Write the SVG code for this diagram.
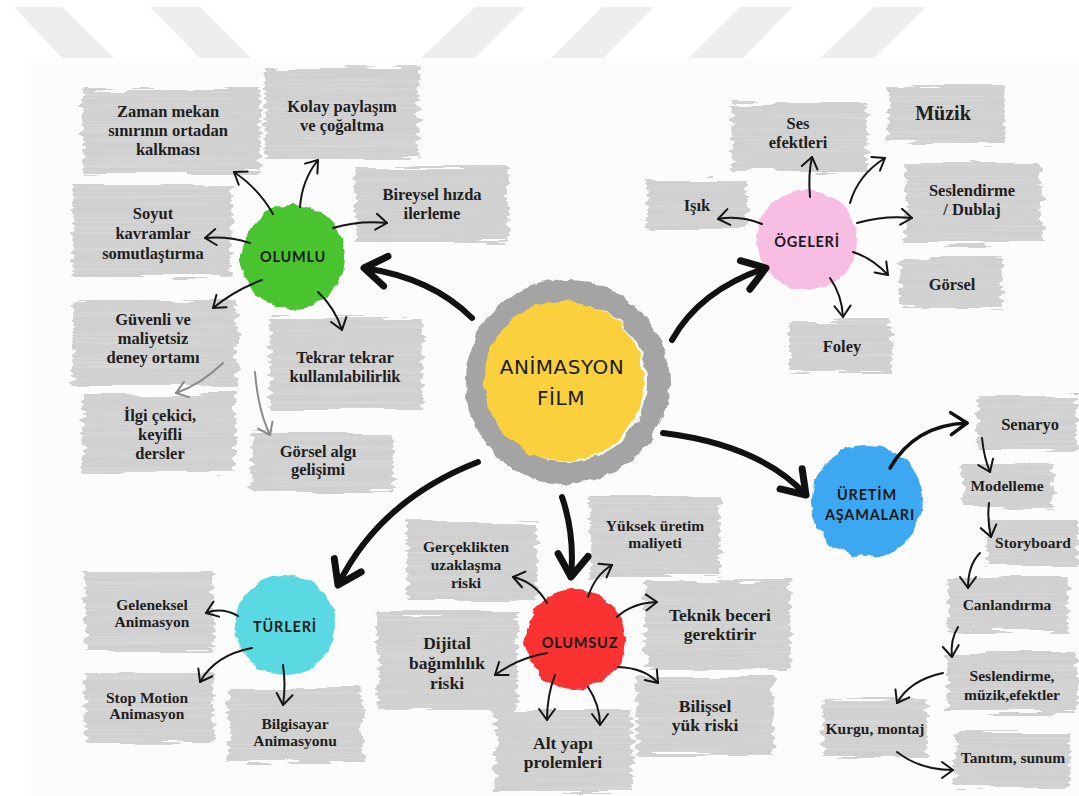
<svg xmlns="http://www.w3.org/2000/svg" width="1079" height="796" viewBox="0 0 1079 796">
<defs>
<style>
.box{fill:#d0d0d0;filter:url(#brush)}
.t{font-family:"Liberation Serif","Times New Roman",serif;font-weight:bold;font-size:16.5px;fill:#1e1e1e;text-anchor:middle}
.s{font-size:15.5px}
.c{font-family:"Lato","Liberation Sans",sans-serif;font-weight:bold;font-size:14.5px;fill:#1a1a1a;text-anchor:middle;letter-spacing:0.8px}
.thin{fill:none;stroke:#151515;stroke-width:2;stroke-linecap:round;marker-end:url(#ah)}
.grey{fill:none;stroke:#8a8a8a;stroke-width:2;stroke-linecap:round;marker-end:url(#ahg)}
.big{fill:none;stroke:#111;stroke-width:6;stroke-linecap:round;marker-end:url(#big)}
.stripe{fill:#eeeeee}
</style>
<filter id="brush" x="-8%" y="-15%" width="116%" height="130%">
<feTurbulence type="fractalNoise" baseFrequency="0.015 0.22" numOctaves="2" seed="4" result="n"/>
<feDisplacementMap in="SourceGraphic" in2="n" scale="14" xChannelSelector="R" yChannelSelector="G" result="d"/>
<feTurbulence type="fractalNoise" baseFrequency="0.004 0.5" numOctaves="2" seed="9" result="st"/>
<feColorMatrix in="st" type="matrix" values="0 0 0 0 0.9  0 0 0 0 0.9  0 0 0 0 0.9  0 0 0 0.6 -0.27" result="sw"/>
<feComposite in="sw" in2="d" operator="in" result="sw2"/>
<feMerge><feMergeNode in="d"/><feMergeNode in="sw2"/></feMerge>
</filter>
<filter id="blob" x="-10%" y="-10%" width="120%" height="120%">
<feTurbulence type="fractalNoise" baseFrequency="0.08" numOctaves="2" seed="2" result="n"/>
<feDisplacementMap in="SourceGraphic" in2="n" scale="8" xChannelSelector="R" yChannelSelector="G"/>
</filter>
<marker id="ah" markerUnits="userSpaceOnUse" viewBox="-14 -12 16 24" markerWidth="16" markerHeight="24" refX="0" refY="0" orient="auto" overflow="visible">
<path d="M-11,-8 L0,0 L-11,8" fill="none" stroke="#151515" stroke-width="2" stroke-linecap="round" stroke-linejoin="round"/>
</marker>
<marker id="ahg" markerUnits="userSpaceOnUse" viewBox="-14 -12 16 24" markerWidth="16" markerHeight="24" refX="0" refY="0" orient="auto" overflow="visible">
<path d="M-11,-8 L0,0 L-11,8" fill="none" stroke="#8a8a8a" stroke-width="2" stroke-linecap="round" stroke-linejoin="round"/>
</marker>
<marker id="big" markerUnits="userSpaceOnUse" viewBox="-30 -30 34 60" markerWidth="34" markerHeight="60" refX="0" refY="0" orient="auto" overflow="visible">
<path d="M-22,-15 L0,0 L-22,15" fill="none" stroke="#111" stroke-width="7" stroke-linecap="round" stroke-linejoin="round"/>
</marker>
<marker id="med" markerUnits="userSpaceOnUse" viewBox="-20 -20 24 40" markerWidth="24" markerHeight="40" refX="0" refY="0" orient="auto" overflow="visible">
<path d="M-16,-11 L0,0 L-16,11" fill="none" stroke="#111" stroke-width="3.5" stroke-linecap="round" stroke-linejoin="round"/>
</marker>
</defs>
<rect width="1079" height="796" fill="#ffffff"/>
<rect x="25" y="58" width="1054" height="738" fill="#fcfcfc"/>
<g id="stripes">
<polygon class="stripe" points="14,7 62,7 114,58 62,58"/>
<polygon class="stripe" points="150,7 200,7 251,58 200,58"/>
<polygon class="stripe" points="475,7 526,7 475,58 421,58"/>
<polygon class="stripe" points="602,7 654,7 604,58 551,58"/>
<polygon class="stripe" points="740,7 793,7 743,58 688,58"/>
<polygon class="stripe" points="874,7 926,7 874,58 820,58"/>
</g>
<g id="nodes">
<g id="n-zaman"><rect class="box" x="83" y="90" width="177" height="83"/><text class="t" x="168" y="117">Zaman mekan</text><text class="t" x="168" y="136">sınırının ortadan</text><text class="t" x="168" y="155">kalkması</text></g>
<g id="n-kolay"><rect class="box" x="265" y="68" width="153" height="92"/><text class="t" x="342" y="112">Kolay paylaşım</text><text class="t" x="342" y="131">ve çoğaltma</text></g>
<g id="n-bireysel"><rect class="box" x="355" y="167" width="152" height="76"/><text class="t" x="432" y="200">Bireysel hızda</text><text class="t" x="432" y="219">ilerleme</text></g>
<g id="n-soyut"><rect class="box" x="73" y="185" width="159" height="92"/><text class="t" x="153" y="219">Soyut</text><text class="t" x="153" y="239">kavramlar</text><text class="t" x="153" y="259">somutlaştırma</text></g>
<g id="n-guvenli"><rect class="box" x="73" y="300" width="164" height="85"/><text class="t" x="153" y="325">Güvenli ve</text><text class="t" x="153" y="344">maliyetsiz</text><text class="t" x="153" y="363">deney ortamı</text></g>
<g id="n-tekrar"><rect class="box" x="270" y="318" width="153" height="92"/><text class="t" x="345" y="363">Tekrar tekrar</text><text class="t" x="345" y="382">kullanılabilirlik</text></g>
<g id="n-ilgi"><rect class="box" x="83" y="395" width="152" height="77"/><text class="t" x="160" y="421">İlgi çekici,</text><text class="t" x="160" y="440">keyifli</text><text class="t" x="160" y="459">dersler</text></g>
<g id="n-gorselalgi"><rect class="box" x="252" y="432" width="141" height="60"/><text class="t" x="318" y="457">Görsel algı</text><text class="t" x="318" y="475">gelişimi</text></g>
<g id="n-ses"><rect class="box" x="732" y="103" width="135" height="69"/><text class="t" x="798" y="129">Ses</text><text class="t" x="798" y="148">efektleri</text></g>
<g id="n-muzik"><rect class="box" x="888" y="85" width="117" height="58"/><text class="t" x="943" y="120" style="font-size:20px">Müzik</text></g>
<g id="n-isik"><rect class="box" x="647" y="180" width="100" height="50"/><text class="t" x="697" y="211">Işık</text></g>
<g id="n-seslendirme"><rect class="box" x="905" y="162" width="137" height="81"/><text class="t" x="972" y="196">Seslendirme</text><text class="t" x="972" y="215">/ Dublaj</text></g>
<g id="n-gorsel"><rect class="box" x="900" y="258" width="102" height="50"/><text class="t" x="952" y="290">Görsel</text></g>
<g id="n-foley"><rect class="box" x="790" y="320" width="102" height="52"/><text class="t" x="842" y="352">Foley</text></g>
<g id="n-senaryo"><rect class="box" x="978" y="397" width="99" height="53"/><text class="t" x="1030" y="430">Senaryo</text></g>
<g id="n-modelleme"><rect class="box" x="962" y="465" width="91" height="43"/><text class="t s" x="1007" y="491">Modelleme</text></g>
<g id="n-storyboard"><rect class="box" x="987" y="520" width="91" height="45"/><text class="t s" x="1033" y="548">Storyboard</text></g>
<g id="n-canlandirma"><rect class="box" x="948" y="577" width="120" height="55"/><text class="t s" x="1007" y="610">Canlandırma</text></g>
<g id="n-seslendirme2"><rect class="box" x="948" y="653" width="129" height="60"/><text class="t s" x="1012" y="681">Seslendirme,</text><text class="t s" x="1012" y="700">müzik,efektler</text></g>
<g id="n-kurgu"><rect class="box" x="823" y="700" width="104" height="57"/><text class="t s" x="875" y="734">Kurgu, montaj</text></g>
<g id="n-tanitim"><rect class="box" x="955" y="732" width="115" height="55"/><text class="t s" x="1013" y="763">Tanıtım, sunum</text></g>
<g id="n-geleneksel"><rect class="box" x="85" y="572" width="128" height="78"/><text class="t s" x="152" y="610">Geleneksel</text><text class="t s" x="152" y="627">Animasyon</text></g>
<g id="n-stopmotion"><rect class="box" x="85" y="673" width="128" height="70"/><text class="t s" x="147" y="703">Stop Motion</text><text class="t s" x="147" y="719">Animasyon</text></g>
<g id="n-bilgisayar"><rect class="box" x="228" y="688" width="134" height="75"/><text class="t s" x="295" y="729">Bilgisayar</text><text class="t s" x="295" y="746">Animasyonu</text></g>
<g id="n-gerceklik"><rect class="box" x="407" y="522" width="130" height="78"/><text class="t s" x="466" y="552">Gerçeklikten</text><text class="t s" x="466" y="570">uzaklaşma</text><text class="t s" x="466" y="588">riski</text></g>
<g id="n-yuksek"><rect class="box" x="590" y="497" width="130" height="80"/><text class="t s" x="655" y="531">Yüksek üretim</text><text class="t s" x="655" y="548">maliyeti</text></g>
<g id="n-teknik"><rect class="box" x="645" y="580" width="145" height="90"/><text class="t" x="720" y="621" style="font-size:17.5px">Teknik beceri</text><text class="t" x="720" y="640" style="font-size:17.5px">gerektirir</text></g>
<g id="n-dijital"><rect class="box" x="378" y="612" width="140" height="98"/><text class="t" x="447" y="649" style="font-size:17.5px">Dijital</text><text class="t" x="447" y="669" style="font-size:17.5px">bağımlılık</text><text class="t" x="447" y="689" style="font-size:17.5px">riski</text></g>
<g id="n-bilissel"><rect class="box" x="637" y="677" width="136" height="78"/><text class="t" x="705" y="712" style="font-size:17.5px">Bilişsel</text><text class="t" x="705" y="731" style="font-size:17.5px">yük riski</text></g>
<g id="n-altyapi"><rect class="box" x="495" y="710" width="137" height="82"/><text class="t" x="563" y="749" style="font-size:17.5px">Alt yapı</text><text class="t" x="563" y="768" style="font-size:17.5px">prolemleri</text></g>

<g id="n-center"><circle cx="567" cy="382" r="91" fill="none" stroke="#a4a4a4" stroke-width="22" filter="url(#blob)"/><circle cx="564" cy="381" r="80" fill="#fbd03e" filter="url(#blob)"/><text x="562" y="374" style="font-family:'DejaVu Sans','Liberation Sans',sans-serif;font-size:20px;fill:#1a1a1a;text-anchor:middle;letter-spacing:0.5px">ANİMASYON</text><text x="561" y="405" style="font-family:'DejaVu Sans','Liberation Sans',sans-serif;font-size:20px;fill:#1a1a1a;text-anchor:middle;letter-spacing:0.5px">FİLM</text></g>
<g id="n-olumlu"><circle cx="293" cy="257" r="52" fill="#48c42d" filter="url(#blob)"/><text class="c" x="293" y="262">OLUMLU</text></g>
<g id="n-ogeleri"><circle cx="807" cy="240" r="50" fill="#f8bde2" filter="url(#blob)"/><text class="c" x="807" y="247">ÖGELERİ</text></g>
<g id="n-uretim"><circle cx="867" cy="501" r="56" fill="#3ea8f2" filter="url(#blob)"/><text class="c" x="867" y="500">ÜRETİM</text><text class="c" x="870" y="520">AŞAMALARI</text></g>
<g id="n-turleri"><circle cx="285" cy="625" r="50" fill="#5ad9e2" filter="url(#blob)"/><text class="c" x="285" y="632">TÜRLERİ</text></g>
<g id="n-olumsuz"><circle cx="575" cy="639" r="50" fill="#fb3030" filter="url(#blob)"/><text class="c" x="580" y="648">OLUMSUZ</text></g>
</g>
<g id="connectors">
<path class="big" d="M472,318 Q432,278 364,268"/>
<path class="big" d="M672,340 Q700,290 766,268"/>
<path class="big" d="M663,433 Q760,445 806,495"/>
<path class="big" d="M478,462 Q380,500 338,585"/>
<path class="big" d="M562,497 Q575,535 571,577"/>
<path class="thin" d="M273,214 Q258,188 234,172"/>
<path class="thin" d="M300,207 Q302,180 318,160"/>
<path class="thin" d="M333,228 Q360,220 387,223"/>
<path class="thin" d="M250,243 Q228,236 205,238"/>
<path class="thin" d="M262,280 Q235,290 213,308"/>
<path class="thin" d="M318,292 Q335,308 342,330"/>
<path class="grey" d="M223,363 Q200,385 176,393"/>
<path class="grey" d="M255,372 Q258,410 270,435"/>
<path class="thin" d="M810,197 Q808,175 812,157"/>
<path class="thin" d="M850,203 Q858,175 885,158"/>
<path class="thin" d="M857,223 Q885,215 912,218"/>
<path class="thin" d="M853,252 Q872,258 888,275"/>
<path class="thin" d="M830,278 Q842,295 843,317"/>
<path class="thin" d="M762,224 Q740,215 718,219"/>
<path d="M890,468 Q915,425 967,423" fill="none" stroke="#111" stroke-width="3.5" stroke-linecap="round" marker-end="url(#med)"/>
<path class="thin" d="M982,438 Q984,458 990,472"/>
<path class="thin" d="M989,503 Q987,520 991,537"/>
<path class="thin" d="M980,553 Q968,565 968,588"/>
<path class="thin" d="M958,627 Q950,640 952,657"/>
<path class="thin" d="M943,673 Q910,680 897,703"/>
<path class="thin" d="M897,752 Q920,770 953,770"/>
<path class="thin" d="M238,616 Q222,607 206,613"/>
<path class="thin" d="M252,648 Q215,655 200,682"/>
<path class="thin" d="M283,665 Q286,685 283,705"/>
<path class="thin" d="M547,603 Q535,582 513,577"/>
<path class="thin" d="M588,597 Q595,575 612,565"/>
<path class="thin" d="M617,617 Q632,603 657,602"/>
<path class="thin" d="M547,653 Q518,658 495,675"/>
<path class="thin" d="M618,667 Q645,668 658,683"/>
<path class="thin" d="M555,675 Q547,695 547,720"/>
<path class="thin" d="M588,687 Q600,705 600,725"/>
</g>
</svg>
